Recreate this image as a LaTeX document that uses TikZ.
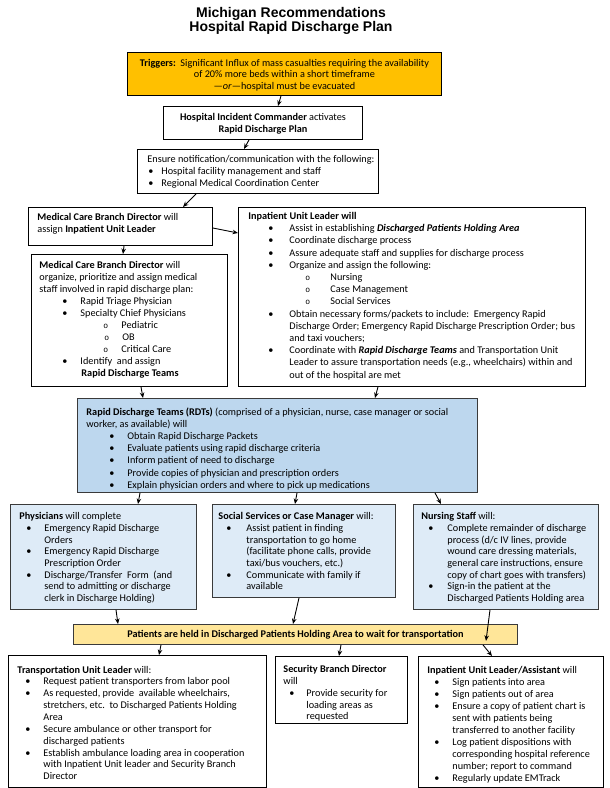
\documentclass[tikz,border=0pt]{standalone}
\usepackage{fontspec}
\setmainfont{Carlito}
\newfontfamily\titlefont{Liberation Sans}
\newfontfamily\monofont{Liberation Mono}
\usetikzlibrary{arrows.meta}

\definecolor{trigfill}{HTML}{FFC000}
\definecolor{rdtfill}{HTML}{BDD7EE}
\definecolor{paleblue}{HTML}{DEEBF7}
\definecolor{barfill}{HTML}{FFE699}
\definecolor{edgegray}{HTML}{3A3A3A}

\newcommand\Ln[2]{\noindent\strut\rlap{\hspace*{#1pt}#2}\par}
\newcommand\Bu[3]{\noindent\strut\rlap{\hspace*{#1pt}\textbullet}\rlap{\hspace*{#2pt}#3}\par}
\newcommand\Ci[3]{\noindent\strut\rlap{\hspace*{#1pt}{\monofont\fontsize{8}{9}\selectfont o}}\rlap{\hspace*{#2pt}#3}\par}
\newcommand\Lc[1]{\noindent\hbox to\linewidth{\hss\strut#1\hss}\par}
\newcommand\BoxText[5]{\begin{minipage}[t][#2pt][t]{#1pt}\fontsize{10.25}{#3}\selectfont\parskip=0pt\vspace*{\dimexpr #4pt-0.7\baselineskip\relax}#5\end{minipage}}

\begin{document}
\begin{tikzpicture}[x=1pt,y=-1pt,
  box/.style={draw=black, line width=0.9pt, inner sep=0pt, anchor=north west, fill=white},
  bluebox/.style={box, draw=edgegray, fill=paleblue},
  arr/.style={-{Stealth[length=5.5pt,width=4.5pt]}, line width=0.9pt},
  ttl/.style={anchor=base, inner sep=0pt, font=\titlefont\bfseries\fontsize{14}{16}\selectfont}]
\useasboundingbox[fill=white] (0,0) rectangle (610,788);

\node[ttl] (title1) at (291,17) {Michigan Recommendations};
\node[ttl] (title2) at (291,31.5) {Hospital Rapid Discharge Plan};

\node[box, fill=trigfill] (trig) at (127,52) {\BoxText{314}{43}{11.6}{13.8}{%
\Lc{\textbf{Triggers:}\ \ Significant Influx of mass casualties requiring the availability}
\Lc{of 20\% more beds within a short timeframe}
\Lc{—\textit{or}—hospital must be evacuated}}};

\node[box] (hic) at (163,106) {\BoxText{199}{33}{11.6}{14}{%
\Lc{\textbf{Hospital Incident Commander} activates}
\Lc{\textbf{Rapid Discharge Plan}}}};

\node[box] (notif) at (137,149) {\BoxText{241}{44}{11.9}{13.3}{%
\Ln{10}{Ensure notification/communication with the following:}
\Bu{11}{24}{Hospital facility management and staff}
\Bu{11}{24}{Regional Medical Coordination Center}}};

\node[box] (mcbd1) at (28,207) {\BoxText{184}{38}{12}{13.3}{%
\Ln{9}{\textbf{Medical Care Branch Director} will}
\Ln{9}{assign \textbf{Inpatient Unit Leader}}}};

\node[box] (iul) at (238,207) {\BoxText{347}{179}{12.2}{12}{%
\Ln{10}{\textbf{Inpatient Unit Leader will}}
\Bu{30}{51}{Assist in establishing \textbf{\textit{Discharged Patients Holding Area}}}
\Bu{30}{51}{Coordinate discharge process}
\Bu{30}{51}{Assure adequate staff and supplies for discharge process}
\Bu{30}{51}{Organize and assign the following:}
\Ci{67}{92}{Nursing}
\Ci{67}{92}{Case Management}
\Ci{67}{92}{Social Services}
\Bu{30}{51}{Obtain necessary forms/packets to include:\ \ Emergency Rapid}
\Ln{51}{Discharge Order; Emergency Rapid Discharge Prescription Order; bus}
\Ln{51}{and taxi vouchers;}
\Bu{30}{51}{Coordinate with \textbf{\textit{Rapid Discharge Teams}} and Transportation Unit}
\Ln{51}{Leader to assure transportation needs (e.g., wheelchairs) within and}
\Ln{51}{out of the hospital are met}}};

\node[box] (mcbd2) at (31,254) {\BoxText{196}{132}{12}{13.6}{%
\Ln{8}{\textbf{Medical Care Branch Director} will}
\Ln{8}{organize, prioritize and assign medical}
\Ln{8}{staff involved in rapid discharge plan:}
\Bu{31}{49}{Rapid Triage Physician}
\Bu{31}{49}{Specialty Chief Physicians}
\Ci{72}{90}{Pediatric}
\Ci{73}{91}{OB}
\Ci{72}{90}{Critical Care}
\Bu{31}{49}{Identify\ \ and assign}
\Ln{50}{\textbf{Rapid Discharge Teams}}}};

\node[box, draw=edgegray, fill=rdtfill] (rdt) at (77,398) {\BoxText{400}{94}{12.1}{17.1}{%
\Ln{9}{\textbf{Rapid Discharge Teams (RDTs)} (comprised of a physician, nurse, case manager or social}
\Ln{9}{worker, as available) will}
\Bu{32}{50}{Obtain Rapid Discharge Packets}
\Bu{32}{50}{Evaluate patients using rapid discharge criteria}
\Bu{32}{50}{Inform patient of need to discharge}
\Bu{32}{50}{Provide copies of physician and prescription orders}
\Bu{32}{50}{Explain physician orders and where to pick up medications}}};

\node[bluebox] (phys) at (10,504) {\BoxText{186}{105}{11.7}{15.3}{%
\Ln{9}{\textbf{Physicians} will complete}
\Bu{16}{34}{Emergency Rapid Discharge}
\Ln{34}{Orders}
\Bu{16}{34}{Emergency Rapid Discharge}
\Ln{34}{Prescription Order}
\Bu{16}{34}{Discharge/Transfer\ \ Form\ \ (and}
\Ln{34}{send\ to\ admitting\ or\ discharge}
\Ln{34}{clerk in Discharge Holding)}}};

\node[bluebox] (social) at (212,504) {\BoxText{183}{93}{11.7}{15.3}{%
\Ln{6}{\textbf{Social Services or Case Manager} will:}
\Bu{14}{34}{Assist patient in finding}
\Ln{34}{transportation to go home}
\Ln{34}{(facilitate phone calls, provide}
\Ln{34}{taxi/bus vouchers, etc.)}
\Bu{14}{34}{Communicate with family if}
\Ln{34}{available}}};

\node[bluebox] (nursing) at (413,504) {\BoxText{185}{105}{11.7}{15.3}{%
\Ln{8}{\textbf{Nursing Staff} will:}
\Bu{15}{34}{Complete remainder of discharge}
\Ln{34}{process (d/c IV lines, provide}
\Ln{34}{wound care dressing materials,}
\Ln{34}{general care instructions, ensure}
\Ln{34}{copy of chart goes with transfers)}
\Bu{15}{34}{Sign-in the patient at the}
\Ln{34}{Discharged Patients Holding area}}};

\node[box, draw=edgegray, fill=barfill] (bar) at (73,624) {\BoxText{444}{20}{12}{13.3}{%
\Lc{\textbf{Patients are held in Discharged Patients Holding Area to wait for transportation}}}};

\node[box] (transport) at (8,655) {\BoxText{258}{132}{11.85}{17.6}{%
\Ln{9}{\textbf{Transportation Unit Leader} will:}
\Bu{17}{35}{Request patient transporters from labor pool}
\Bu{17}{35}{As requested, provide\ \ available wheelchairs,}
\Ln{35}{stretchers, etc.\ \ to Discharged Patients Holding}
\Ln{35}{Area}
\Bu{17}{35}{Secure ambulance or other transport for}
\Ln{35}{discharged patients}
\Bu{17}{35}{Establish ambulance loading area in cooperation}
\Ln{35}{with Inpatient Unit leader and Security Branch}
\Ln{35}{Director}}};

\node[box] (security) at (275,656) {\BoxText{132}{67}{11.8}{16.3}{%
\Ln{8}{\textbf{Security Branch Director}}
\Ln{8}{will}
\Bu{14}{31}{Provide security for}
\Ln{31}{loading areas as}
\Ln{31}{requested}}};

\node[box] (iula) at (418,656) {\BoxText{185}{131}{12}{16.8}{%
\Ln{9}{\textbf{Inpatient Unit Leader/Assistant} will}
\Bu{16}{34}{Sign patients into area}
\Bu{16}{34}{Sign patients out of area}
\Bu{16}{34}{Ensure a copy of patient chart is}
\Ln{34}{sent with patients being}
\Ln{34}{transferred to another facility}
\Bu{16}{34}{Log patient dispositions with}
\Ln{34}{corresponding hospital reference}
\Ln{34}{number; report to command}
\Bu{16}{34}{Regularly update EMTrack}}};

% connectors
\draw[arr] ([xshift=154pt]trig.south west) -- ([xshift=115pt]hic.north west);
\draw[arr] ([xshift=86pt]hic.south west) -- ([xshift=107pt]notif.north west);
\draw[arr] ([xshift=59pt]notif.south west) -- ([xshift=155pt]mcbd1.north west);
\draw[arr] ([yshift=-21pt]mcbd1.north east) -- ([yshift=-26pt]iul.north west);
\draw[arr] ([xshift=96pt]mcbd1.south west) -- ([xshift=92pt]mcbd2.north west);
\draw[arr] ([xshift=110pt]mcbd2.south west) -- ([xshift=66pt]rdt.north west);
\draw[arr] ([xshift=140pt]iul.south west) -- ([xshift=298pt]rdt.north west);
\draw[arr] ([xshift=63pt]rdt.south west) -- ([xshift=128pt]phys.north west);
\draw[arr] ([xshift=220pt]rdt.south west) -- ([xshift=83pt]social.north west);
\draw[arr] ([xshift=358pt]rdt.south west) -- ([xshift=28pt]nursing.north west);
\draw[arr] ([xshift=106pt]phys.south west) -- ([xshift=45pt]bar.north west);
\draw[arr] ([xshift=87pt]social.south west) -- ([xshift=220pt]bar.north west);
\draw[arr] ([xshift=77pt]nursing.south west) -- ([xshift=413pt,yshift=4pt]bar.south west);
\draw[arr] ([xshift=88pt]bar.south west) -- ([xshift=151pt]transport.north west);
\draw[arr] ([xshift=268pt]bar.south west) -- ([xshift=64pt]security.north west);
\draw[arr] ([xshift=410pt]bar.south west) -- ([xshift=74pt]iula.north west);
\end{tikzpicture}
\end{document}
